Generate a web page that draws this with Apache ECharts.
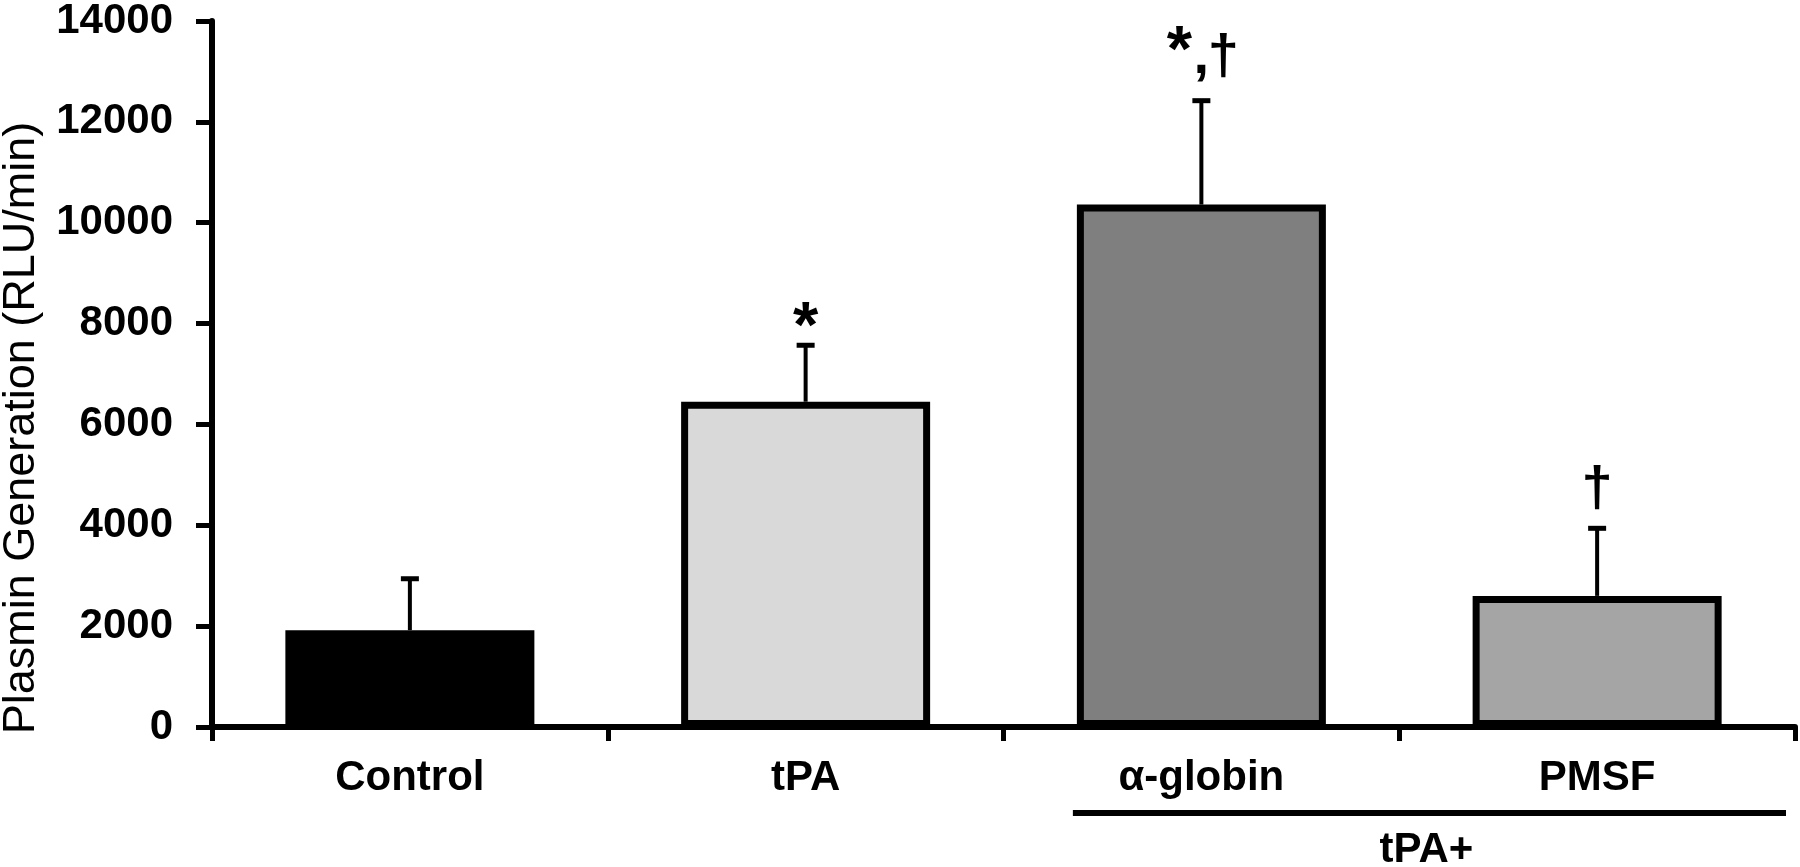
<!DOCTYPE html>
<html>
<head>
<meta charset="utf-8">
<script src="https://cdn.jsdelivr.net/npm/echarts@6.0.0/dist/echarts.min.js"></script>
<style>
  html, body { margin: 0; padding: 0; background: #fff; }
  #chart { width: 1800px; height: 867px; }
</style>
</head>
<body>
<div id="chart"></div>
<script>
  // values
  var categories = ['Control', 'tPA', 'α-globin', 'PMSF'];
  var means = [1920, 6450, 10360, 2600];
  var errors = [1020, 1120, 2060, 1340];
  var marks = ['', '*', '*,†', '†'];
  var barColors = ['#000000', '#d9d9d9', '#7f7f7f', '#a5a5a5'];
  var yTicks = { min: 0, max: 14000, step: 2000 };

  var FONT = '"Liberation Sans", Arial, sans-serif';
  var BAR_W = 249;

  // how each symbol is drawn above its error cap
  var glyphs = {
    '*': { size: 65, adv: 30 },
    ',': { size: 56, adv: 14 },
    '†': { size: 56, adv: 30 }
  };
  // the labels sit at slightly different heights in the original
  var markLift = { '*': -16, '*,†': 15, '†': 11 };

  var chart = echarts.init(document.getElementById('chart'));

  function errorBar(params, api) {
    var x = api.value(0);
    var top = api.coord([x, api.value(1) + api.value(2)]);
    var base = api.coord([x, api.value(1)]);
    var capHalf = 9;
    var children = [
      { type: 'line', shape: { x1: base[0], y1: base[1], x2: top[0], y2: top[1] }, style: { stroke: '#000', lineWidth: 4 } },
      { type: 'line', shape: { x1: top[0] - capHalf, y1: top[1], x2: top[0] + capHalf, y2: top[1] }, style: { stroke: '#000', lineWidth: 5 } }
    ];
    var label = marks[params.dataIndex];
    if (label) {
      var chars = label.split('');
      var total = chars.reduce(function (s, c) { return s + glyphs[c].adv; }, 0);
      var cx = top[0] - total / 2;
      var y = top[1] - (markLift[label] || 0);
      chars.forEach(function (c) {
        var g = glyphs[c];
        children.push({
          type: 'text',
          style: {
            x: cx + g.adv / 2, y: y, text: c,
            align: 'center', verticalAlign: 'bottom',
            font: 'bold ' + g.size + 'px ' + FONT, fill: '#000'
          }
        });
        cx += g.adv;
      });
    }
    return { type: 'group', children: children };
  }

  var option = {
    animation: false,
    grid: { left: 212, right: 5, top: 21, bottom: 140 },
    xAxis: {
      type: 'category',
      data: categories,
      boundaryGap: true,
      axisLine: { lineStyle: { color: '#000', width: 6 } },
      axisTick: { show: true, inside: false, length: 14, lineStyle: { color: '#000', width: 5 } },
      axisLabel: { color: '#000', fontFamily: FONT, fontWeight: 'bold', fontSize: 42, margin: 30 }
    },
    yAxis: {
      type: 'value',
      min: yTicks.min,
      max: yTicks.max,
      interval: yTicks.step,
      axisLine: { show: true, lineStyle: { color: '#000', width: 6 } },
      axisTick: { show: true, inside: false, length: 16, lineStyle: { color: '#000', width: 5 } },
      splitLine: { show: false },
      axisLabel: {
        color: '#000', fontFamily: FONT, fontWeight: 'bold', fontSize: 42, margin: 39,
        formatter: function (v) { return String(v); }
      }
    },
    series: [
      {
        type: 'bar',
        barWidth: BAR_W,
        data: means.map(function (v, i) {
          return { value: v, itemStyle: { color: barColors[i], borderColor: '#000', borderWidth: 7 } };
        })
      },
      {
        type: 'custom',
        renderItem: errorBar,
        z: 1,
        data: means.map(function (v, i) { return [i, v, errors[i]]; })
      }
    ],
    graphic: [
      {
        type: 'text',
        x: 22, y: 428, rotation: Math.PI / 2,
        style: {
          text: 'Plasmin Generation (RLU/min)',
          font: '45px ' + FONT, fill: '#000',
          align: 'center', verticalAlign: 'middle'
        }
      }
    ]
  };

  chart.setOption(option);

  // "tPA+" bracket under the last two groups
  var left = chart.convertToPixel({ xAxisIndex: 0 }, 2);
  var x1 = left - BAR_W / 2 - 4;
  var x2 = chart.getWidth() - 5 - 9;
  chart.setOption({
    graphic: [
      option.graphic[0],
      { type: 'line', shape: { x1: x1, y1: 813, x2: x2, y2: 813 }, style: { stroke: '#000', lineWidth: 6 } },
      {
        type: 'text', x: (x1 + x2) / 2 - 3, y: 850,
        style: { text: 'tPA+', font: 'bold 42px ' + FONT, fill: '#000', align: 'center', verticalAlign: 'middle' }
      }
    ]
  });
</script>
</body>
</html>
